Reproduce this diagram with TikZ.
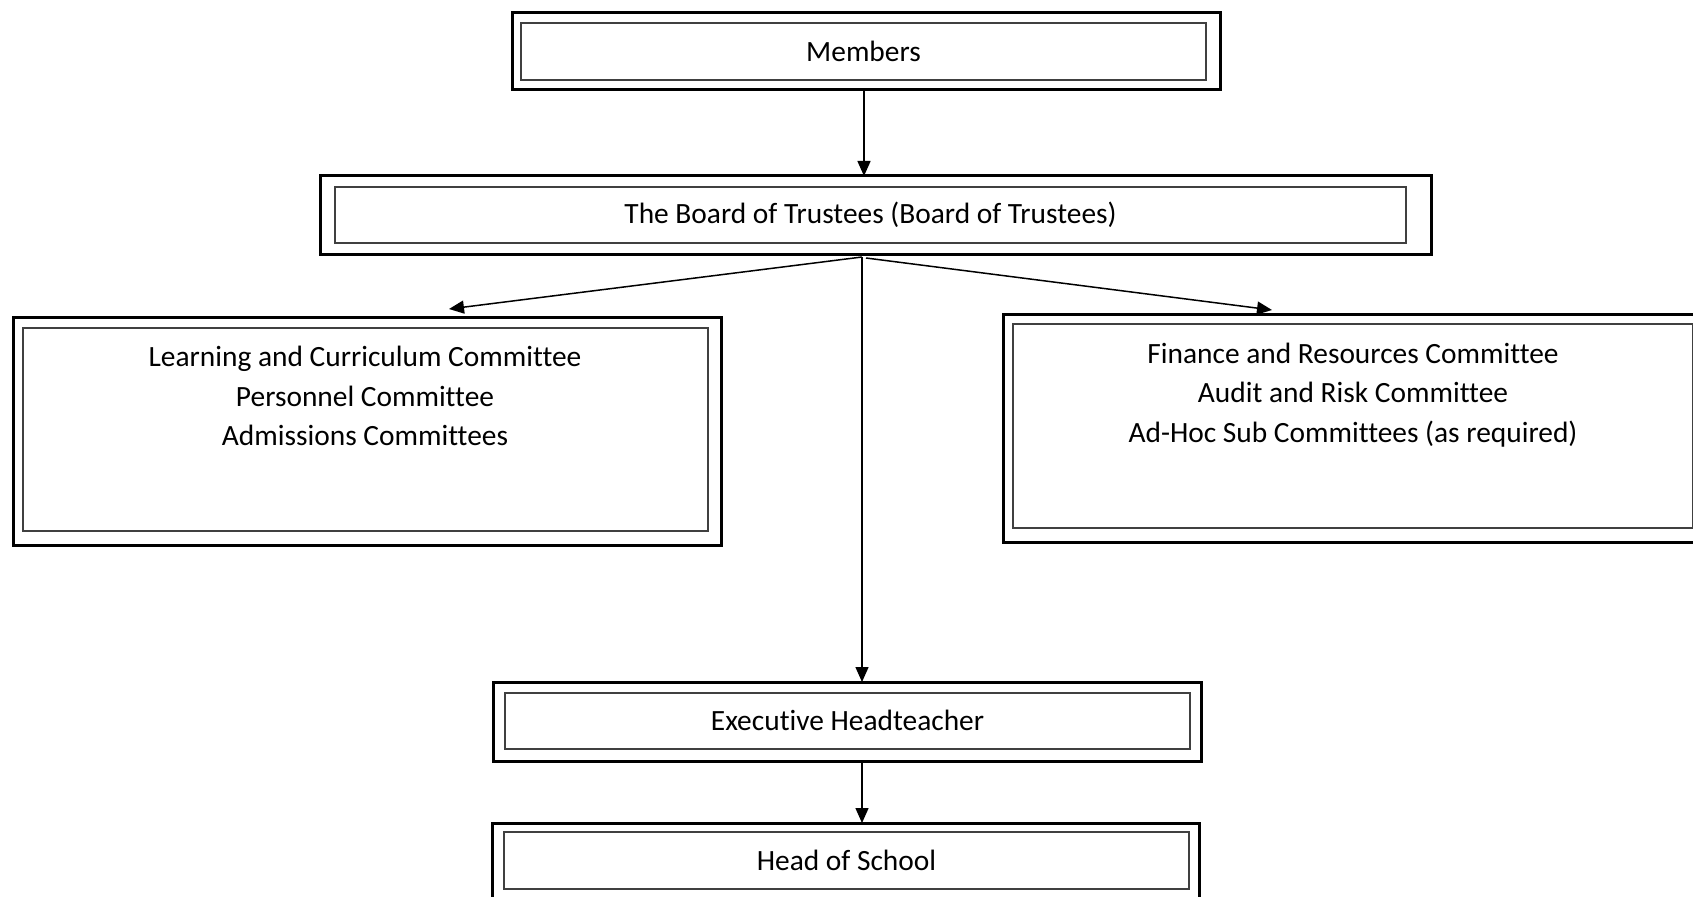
\documentclass[tikz,border=0pt]{standalone}
\usepackage{fontspec}
\setmainfont[Ligatures=NoCommon]{Carlito}
\usetikzlibrary{arrows.meta}
\begin{document}
\begin{tikzpicture}[x=1pt,y=-1pt,
  outerbox/.style={draw=black,line width=3pt,inner sep=0pt},
  innerbox/.style={draw=black!75,line width=2pt,inner sep=0pt,font=\fontsize{29.4pt}{39.5pt}\selectfont},
  txt/.style={align=center,inner sep=0pt,font=\fontsize{29.4pt}{39.5pt}\selectfont},
  conn/.style={draw=black,line width=1.5pt,-{Triangle[length=15pt,width=13pt]}}]
\useasboundingbox (0,0) rectangle (1693,896);
% Members
\node[outerbox,minimum width=708pt,minimum height=77pt] (members) at (866,51) {};
\node[innerbox,minimum width=685pt,minimum height=57pt] (membersin) at (863.5,51.5) {Members};
% Board
\node[outerbox,minimum width=1111pt,minimum height=78pt] (board) at (875.5,215) {};
\node[innerbox,minimum width=1071pt,minimum height=56.5pt] (boardin) at (870.5,215) {The Board of Trustees (Board of Trustees)};
% Left committees
\node[outerbox,minimum width=708pt,minimum height=228pt] (left) at (367,431) {};
\node[innerbox,minimum width=685pt,minimum height=203pt] (leftin) at (365.5,429.5) {};
\node[txt] (lefttxt) at (365,396) {Learning and Curriculum Committee\\Personnel Committee\\Admissions Committees};
% Right committees
\node[outerbox,minimum width=700pt,minimum height=228pt] (right) at (1353,428) {};
\node[innerbox,minimum width=680pt,minimum height=204pt] (rightin) at (1353,426) {};
\node[txt] (righttxt) at (1353,395) {Finance and Resources Committee\\Audit and Risk Committee\\Ad-Hoc Sub Committees (as required)};
% Executive Headteacher
\node[outerbox,minimum width=708pt,minimum height=79pt] (exec) at (847,721.5) {};
\node[innerbox,minimum width=685pt,minimum height=55.5pt] (execin) at (847.5,720.75) {Executive Headteacher};
% Head of School
\node[outerbox,minimum width=707pt,minimum height=79pt] (head) at (845.5,862.5) {};
\node[innerbox,minimum width=685pt,minimum height=57pt] (headin) at (846.5,860.5) {Head of School};
% connectors
\coordinate (m1) at (864,90);
\coordinate (m2) at (864,176);
\draw[conn] (m1) -- (m2);
\coordinate (splitL) at (862,257);
\coordinate (splitR) at (866,258);
\coordinate (tipL) at (449,309);
\coordinate (tipR) at (1272,310);
\draw[conn] (splitL) -- (tipL);
\draw[conn] (splitR) -- (tipR);
\coordinate (e2) at (862,682);
\draw[conn] (splitL) -- (e2);
\coordinate (h1) at (862,761);
\coordinate (h2) at (862,823);
\draw[conn] (h1) -- (h2);
\end{tikzpicture}
\end{document}
